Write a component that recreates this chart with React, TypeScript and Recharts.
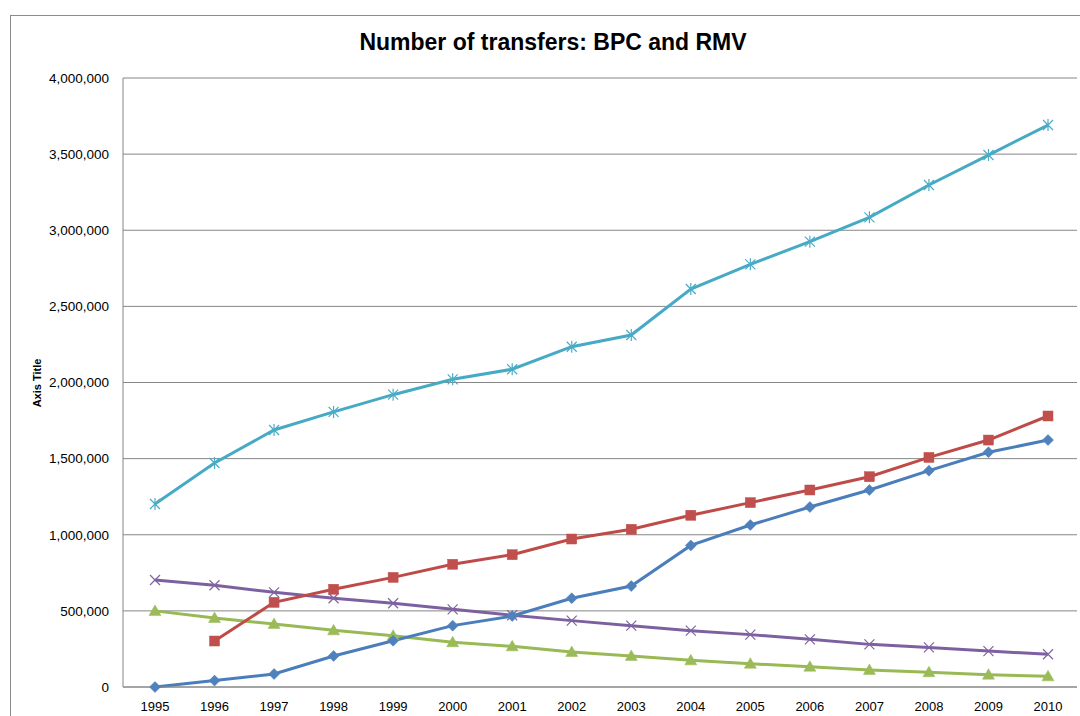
import React from 'react'
import { LineChart, Line, XAxis, YAxis, CartesianGrid } from 'recharts'

const years = [
  '1995', '1996', '1997', '1998', '1999', '2000', '2001', '2002',
  '2003', '2004', '2005', '2006', '2007', '2008', '2009', '2010',
]

// values
const diamondSeries = [
  0, 42000, 85000, 204000, 304000, 403000, 466000, 583000,
  663000, 930000, 1064000, 1182000, 1294000, 1421000, 1542000, 1622000,
]
const squareSeries = [
  null, 302000, 556000, 642000, 720000, 806000, 869000, 972000,
  1036000, 1128000, 1211000, 1294000, 1381000, 1508000, 1622000, 1780000,
]
const triangleSeries = [
  500000, 453000, 414000, 372000, 337000, 294000, 267000, 230000,
  204000, 175000, 153000, 133000, 112000, 97000, 81000, 70000,
]
const crossSeries = [
  703000, 668000, 622000, 583000, 550000, 510000, 471000, 436000,
  403000, 370000, 344000, 313000, 280000, 260000, 236000, 215000,
]
const starSeries = [
  1202000, 1471000, 1688000, 1807000, 1920000, 2021000, 2087000, 2235000,
  2312000, 2614000, 2776000, 2925000, 3085000, 3297000, 3494000, 3691000,
]

const yTicks = [0, 500000, 1000000, 1500000, 2000000, 2500000, 3000000, 3500000, 4000000]

const data = years.map((year, i) => ({
  year,
  a: diamondSeries[i],
  b: squareSeries[i],
  c: triangleSeries[i],
  d: crossSeries[i],
  e: starSeries[i],
}))

const FONT = '"Liberation Sans", Arial, sans-serif'
const GRID = '#868686'

type Shape = 'diamond' | 'square' | 'triangle' | 'cross' | 'star'

function makeDot(shape: Shape, color: string) {
  return (props: any) => {
    const { cx, cy, index } = props
    if (cx == null || cy == null || props.value == null) return <g key={`n-${index}`} />
    const k = `${shape}-${index}`
    if (shape === 'diamond') {
      const r = 5.5
      return (
        <path key={k} d={`M${cx},${cy - r}L${cx + r},${cy}L${cx},${cy + r}L${cx - r},${cy}Z`} fill={color} stroke={color} strokeWidth={0.5} />
      )
    }
    if (shape === 'square') {
      const r = 5
      return <rect key={k} x={cx - r} y={cy - r} width={r * 2} height={r * 2} fill={color} stroke={color} strokeWidth={0.5} />
    }
    if (shape === 'triangle') {
      const r = 6
      return (
        <path key={k} d={`M${cx},${cy - r}L${cx + r},${cy + r * 0.75}L${cx - r},${cy + r * 0.75}Z`} fill={color} stroke={color} strokeWidth={0.5} />
      )
    }
    if (shape === 'cross') {
      const r = 5
      return (
        <path key={k} d={`M${cx - r},${cy - r}L${cx + r},${cy + r}M${cx - r},${cy + r}L${cx + r},${cy - r}`} stroke={color} strokeWidth={1.2} fill="none" />
      )
    }
    const r = 5
    return (
      <path
        key={k}
        d={`M${cx - r},${cy - r}L${cx + r},${cy + r}M${cx - r},${cy + r}L${cx + r},${cy - r}M${cx},${cy - r - 1}L${cx},${cy + r + 1}`}
        stroke={color}
        strokeWidth={1.2}
        fill="none"
      />
    )
  }
}

export default function App() {
  return (
    <div style={{ position: 'absolute', left: 0, top: 0, width: 1080, height: 716, overflow: 'hidden', background: '#fff' }}>
      {/* outer chart frame */}
      <div style={{ position: 'absolute', left: 10, top: 15, width: 1200, height: 800, border: '1px solid #8c8c8c' }} />
      <div
        style={{
          position: 'absolute', left: 0, top: 29, width: 1106, textAlign: 'center',
          fontFamily: FONT, fontWeight: 'bold', fontSize: 23, color: '#000',
        }}
      >
        Number of transfers: BPC and RMV
      </div>
      <div
        style={{
          position: 'absolute', left: 37, top: 383, transform: 'translate(-50%, -50%) rotate(-90deg)',
          fontFamily: FONT, fontWeight: 'bold', fontSize: 11, whiteSpace: 'nowrap', color: '#000',
        }}
      >
        Axis Title
      </div>
      <div style={{ position: 'absolute', left: 0, top: 0 }}>
        <LineChart width={1080} height={716} data={data} margin={{ top: 78, right: 3, bottom: 0, left: 0 }}>
          <CartesianGrid vertical={false} stroke={GRID} strokeWidth={1} />
          <XAxis
            dataKey="year"
            height={29}
            padding={{ left: 32, right: 29 }}
            axisLine={{ stroke: GRID }}
            tickLine={false}
            tickMargin={9}
            tick={{ fill: '#000', fontSize: 13, fontFamily: FONT }}
            interval={0}
          />
          <YAxis
            width={123}
            domain={[0, 4000000]}
            ticks={yTicks}
            axisLine={{ stroke: GRID }}
            tickLine={false}
            tickMargin={8}
            tick={{ fill: '#000', fontSize: 13.5, fontFamily: FONT }}
            tickFormatter={(v: number) => v.toLocaleString('en-US')}
          />
          <Line dataKey="d" stroke="#7D60A0" strokeWidth={3} dot={makeDot('cross', '#8064A2')} isAnimationActive={false} />
          <Line dataKey="c" stroke="#98B954" strokeWidth={3} dot={makeDot('triangle', '#9BBB59')} isAnimationActive={false} />
          <Line dataKey="a" stroke="#4A7EBB" strokeWidth={3} dot={makeDot('diamond', '#4F81BD')} isAnimationActive={false} />
          <Line dataKey="b" stroke="#BE4B48" strokeWidth={3} dot={makeDot('square', '#C0504D')} isAnimationActive={false} />
          <Line dataKey="e" stroke="#46AAC5" strokeWidth={3} dot={makeDot('star', '#4BACC6')} isAnimationActive={false} />
        </LineChart>
      </div>
    </div>
  )
}
